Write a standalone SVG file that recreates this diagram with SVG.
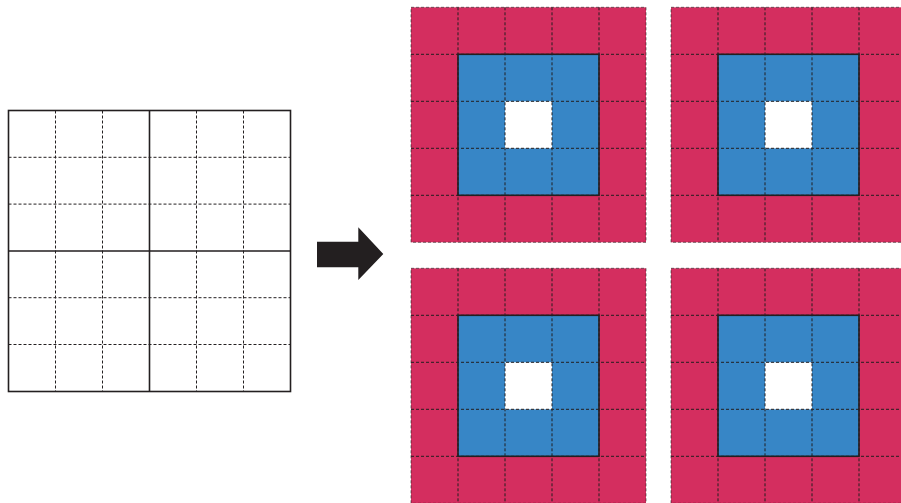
<svg xmlns="http://www.w3.org/2000/svg" xmlns:xlink="http://www.w3.org/1999/xlink" width="901" height="503" viewBox="0 0 901 503">
<style>
.dash{stroke:#231f20;stroke-width:1;stroke-dasharray:3 2;fill:none}
.solid{stroke:#231f20;stroke-width:1.6;fill:none}
.pink{fill:#d42e5f}
.blue{fill:#3786c6}
</style>
<defs>
<g id="panel">
<rect class="pink" x="0" y="0" width="235" height="235"/>
<rect class="blue" x="47" y="47" width="141" height="141"/>
<rect fill="#ffffff" x="94" y="94" width="47" height="47"/>
<path class="dash" d="M47 0V235M94 0V235M141 0V235M188 0V235M0 47H235M0 94H235M0 141H235M0 188H235"/>
<rect class="dash" x="0" y="0" width="235" height="235" stroke-opacity="0.6"/>
<rect class="solid" x="47" y="47" width="141" height="141"/>
</g>
</defs>
<rect width="901" height="503" fill="#ffffff"/>
<g id="input-grid">
<rect x="8.5" y="110.5" width="282" height="281" fill="#ffffff"/>
<path class="dash" d="M55.5 110.5V391.5M102.5 110.5V391.5M196.5 110.5V391.5M243.5 110.5V391.5M8.5 157.3H290.5M8.5 204.1H290.5M8.5 297.7H290.5M8.5 344.5H290.5"/>
<path class="solid" d="M149.5 110.5V391.5M8.5 251H290.5"/>
<rect class="solid" x="8.5" y="110.5" width="282" height="281"/>
</g>
<g id="connectors">
<polygon id="arrow" fill="#231f20" points="317,241.7 358.3,241.7 358.3,227.3 383.3,254 358.3,280 358.3,267.3 317,267.3"/>
</g>
<g id="panel-top-left"><use xlink:href="#panel" transform="translate(411,7.3)"/></g>
<g id="panel-top-right"><use xlink:href="#panel" transform="translate(671,7.3)"/></g>
<g id="panel-bottom-left"><use xlink:href="#panel" transform="translate(411,268.3)"/></g>
<g id="panel-bottom-right"><use xlink:href="#panel" transform="translate(671,268.3)"/></g>
</svg>
